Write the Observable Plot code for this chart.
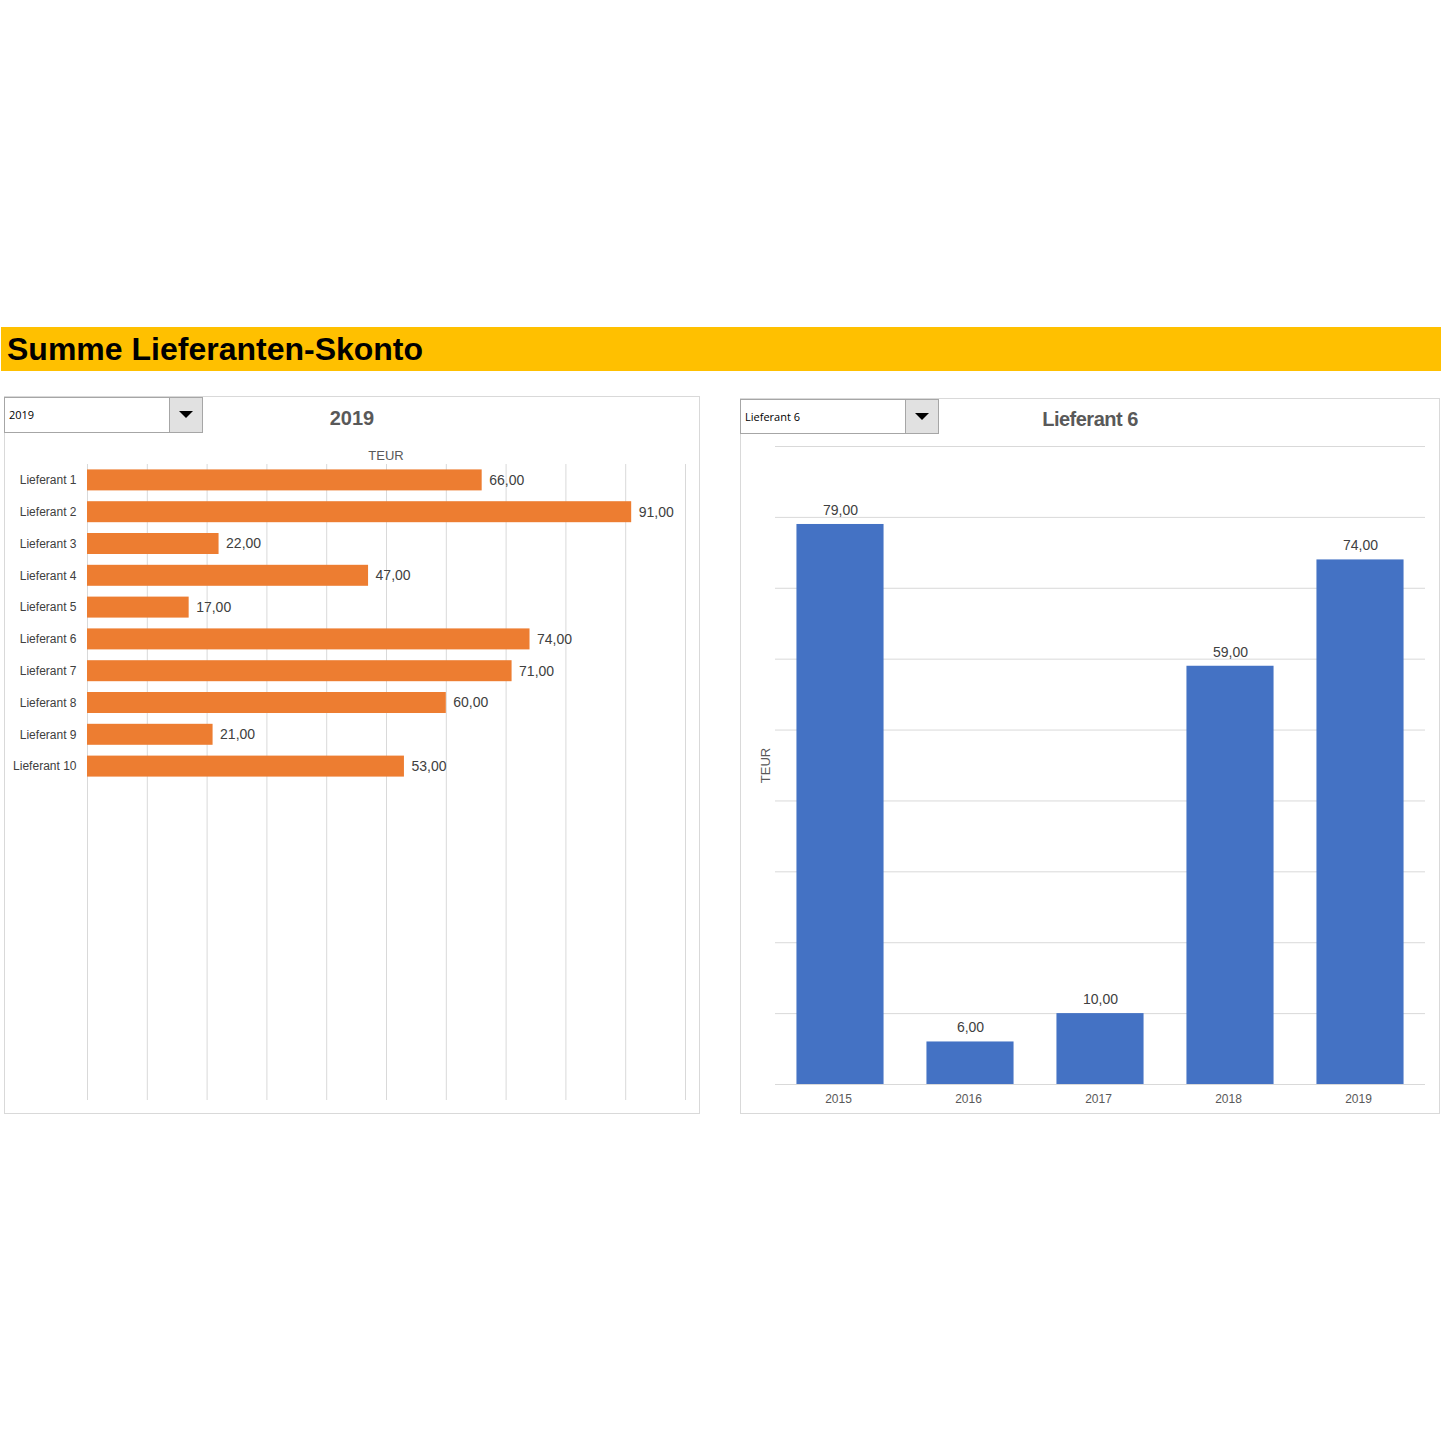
<!DOCTYPE html>
<html>
<head>
<meta charset="utf-8">
<script src="https://cdn.jsdelivr.net/npm/d3@7"></script>
<script src="https://cdn.jsdelivr.net/npm/@observablehq/plot@0.6"></script>
<style>
  html, body { margin: 0; padding: 0; background: #fff; }
  body { width: 1441px; height: 1441px; position: relative; font-family: "Liberation Sans", Arial, sans-serif; overflow: hidden; }
  .abs { position: absolute; }
  .header { left: 1px; top: 327px; width: 1440px; height: 44px; background: #FFC000; }
  .header span { position: absolute; left: 6px; top: 4px; font-size: 32px; font-weight: bold; color: #000; white-space: nowrap; }
  .panel { border: 1px solid #d9d9d9; box-sizing: border-box; background: #fff; }
  .dropdown { border: 1px solid #a6a6a6; box-sizing: border-box; background: #fff; font-family: "Open Sans", "Noto Sans", sans-serif; font-size: 11px; color: #000; }
  .dropdown .txt { position: absolute; left: 4px; top: 50%; transform: translateY(-52%); white-space: nowrap; }
  .dropdown .btn { position: absolute; right: -1px; top: -1px; bottom: -1px; width: 34px; background: #e1e1e1; border: 1px solid #a6a6a6; box-sizing: border-box; }
  .dropdown .btn::after { content: ""; position: absolute; left: 9px; top: 13px; border-left: 7px solid transparent; border-right: 7px solid transparent; border-top: 7px solid #000; }
  .ctitle { font-size: 20px; font-weight: bold; color: #595959; transform: translate(-50%, -50%); white-space: nowrap; }
  .lbl { font-size: 13px; color: #595959; transform: translate(-50%, -50%); white-space: nowrap; }
</style>
</head>
<body>
<div class="abs header"><span>Summe Lieferanten-Skonto</span></div>

<div class="abs panel" style="left:4px; top:396px; width:696px; height:718px;"></div>
<div class="abs panel" style="left:740px; top:398px; width:700px; height:716px;"></div>

<div id="left" class="abs" style="left:5px; top:397px;"></div>
<div id="right" class="abs" style="left:741px; top:399px;"></div>

<div class="abs dropdown" style="left:4px; top:397px; width:199px; height:36px;"><span class="txt">2019</span><div class="btn"></div></div>
<div class="abs dropdown" style="left:740px; top:399px; width:199px; height:35px;"><span class="txt">Lieferant 6</span><div class="btn"></div></div>

<div class="abs ctitle" style="left:352px; top:418px;">2019</div>
<div class="abs lbl" style="left:386px; top:455px;">TEUR</div>
<div class="abs ctitle" style="left:1090px; top:419px; letter-spacing:-0.5px;">Lieferant 6</div>

<script>
// ---- data ----
const suppliers = ["Lieferant 1","Lieferant 2","Lieferant 3","Lieferant 4","Lieferant 5","Lieferant 6","Lieferant 7","Lieferant 8","Lieferant 9","Lieferant 10"];
const values2019 = [66, 91, 22, 47, 17, 74, 71, 60, 21, 53];
const years = ["2015","2016","2017","2018","2019"];
const valuesL6 = [79, 6, 10, 59, 74];
const xTicksLeft = [0,10,20,30,40,50,60,70,80,90,100];
const yTicksRight = [0,10,20,30,40,50,60,70,80,90];

const fmt = v => v.toFixed(2).replace(".", ",");
const font = "'Liberation Sans', Arial, sans-serif";

const leftData = suppliers.map((s, i) => ({supplier: s, value: values2019[i]}));
const rightData = years.map((y, i) => ({year: y, value: valuesL6[i]}));

// ---- left: horizontal bars ----
const left = Plot.plot({
  width: 694,
  height: 715,
  marginLeft: 82,
  marginRight: 14,
  marginTop: 67,
  marginBottom: 12,
  style: {fontFamily: font, background: "transparent", color: "#404040", overflow: "visible"},
  x: {domain: [0, 100], axis: null},
  y: {domain: suppliers, range: [67, 385], paddingInner: 0.34, paddingOuter: 0.17, round: false, label: null},
  marks: [
    Plot.ruleX(xTicksLeft, {stroke: "#d9d9d9", strokeWidth: 1}),
    Plot.barX(leftData, {x: "value", y: "supplier", fill: "#ED7D31"}),
    Plot.text(leftData, {x: "value", y: "supplier", text: d => fmt(d.value), dx: 7, textAnchor: "start", fontSize: 14, fill: "#404040"}),
    Plot.axisY({tickSize: 0, tickPadding: 11, fontSize: 12, label: null, fill: "#404040"})
  ]
});
document.getElementById("left").appendChild(left);

// ---- right: vertical bars ----
const right = Plot.plot({
  width: 698,
  height: 714,
  marginLeft: 34,
  marginRight: 14,
  marginTop: 47,
  marginBottom: 29,
  style: {fontFamily: font, background: "transparent", color: "#595959", overflow: "visible"},
  x: {domain: years, paddingInner: 0.33, paddingOuter: 0.165, round: false, label: null},
  y: {domain: [0, 90], axis: null},
  marks: [
    Plot.ruleY(yTicksRight, {stroke: "#d9d9d9", strokeWidth: 1}),
    Plot.barY(rightData, {x: "year", y: "value", fill: "#4472C4"}),
    Plot.text(rightData, {x: "year", y: "value", text: d => fmt(d.value), dy: -14, fontSize: 14, fill: "#404040"}),
    Plot.axisX({tickSize: 0, tickPadding: 10, fontSize: 12, label: null, fill: "#595959", dx: -2}),
    Plot.text(["TEUR"], {frameAnchor: "left", textAnchor: "middle", dx: -10, rotate: -90, fontSize: 13, fill: "#595959"})
  ]
});
document.getElementById("right").appendChild(right);
</script>
</body>
</html>
